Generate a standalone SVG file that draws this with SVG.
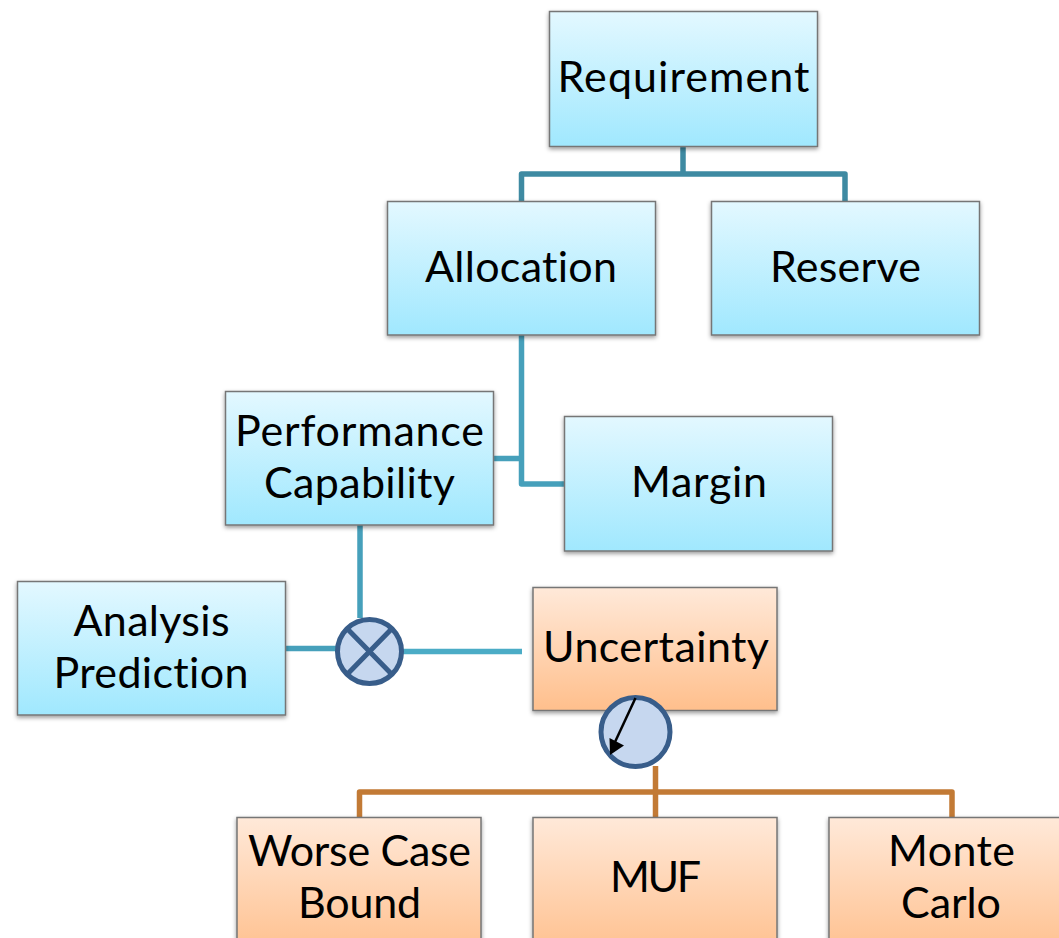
<svg xmlns="http://www.w3.org/2000/svg" width="1059" height="938" viewBox="0 0 1059 938">
<style>
.b{fill:url(#gb);stroke:#767676;stroke-width:1.5;filter:url(#sh)}
.o{fill:url(#go);stroke:#767676;stroke-width:1.5;filter:url(#sh)}
text{font-family:Lato,"Open Sans",sans-serif;font-size:43px;font-variant-ligatures:none;fill:#000;text-anchor:middle}
.c{fill:none;stroke-width:5.5;stroke-linejoin:round}
.c1{stroke:#3e8aa2}.c2{stroke:#46a0bb}.c3{stroke:#4bacc6}.c4{stroke:#c27a35}
.s{fill:#c6d7ef;stroke:#385d8a;stroke-width:5}
</style>
<defs>
<linearGradient id="gb" x1="0" y1="0" x2="0" y2="1"><stop offset="0" stop-color="#e3f8ff"/><stop offset="1" stop-color="#a0e8fe"/></linearGradient>
<linearGradient id="go" x1="0" y1="0" x2="0" y2="1"><stop offset="0" stop-color="#ffe9d9"/><stop offset="1" stop-color="#ffbf8c"/></linearGradient>
<filter id="sh" x="-5%" y="-5%" width="110%" height="115%"><feDropShadow dx="0" dy="2" stdDeviation="2" flood-color="#000" flood-opacity=".4"/></filter>
</defs>
<g id="connectors">
<path class="c c1" d="M683 146V174M521.500 202V174H845V202"/>
<path class="c c2" d="M521.500 335V484H565M494 458.500H521.500"/>
<path class="c c2" d="M360 525V618M286 648.500H337"/>
<path class="c c3" d="M402 651.500H522"/>
<path class="c c4" d="M655.500 766V818M359.500 818V792H952V818"/>
</g>
<g id="requirement"><rect class="b" x="549.500" y="11.500" width="268" height="135"/><text x="683.500" y="92" textLength="252">Requirement</text></g>
<g id="allocation"><rect class="b" x="387.500" y="201.500" width="268" height="133.500"/><text x="521" y="282" textLength="192">Allocation</text></g>
<g id="reserve"><rect class="b" x="711.500" y="201.500" width="268" height="133.500"/><text x="845.500" y="282" textLength="151">Reserve</text></g>
<g id="performance"><rect class="b" x="225.500" y="391.500" width="268" height="133.500"/><text x="359.500" y="446" textLength="249">Performance</text><text x="359.500" y="498" textLength="191">Capability</text></g>
<g id="margin"><rect class="b" x="564.500" y="416.500" width="268" height="134.500"/><text x="699" y="497" textLength="136">Margin</text></g>
<g id="analysis"><rect class="b" x="17.500" y="581.500" width="268" height="133.500"/><text x="151.500" y="636" textLength="156">Analysis</text><text x="151" y="688" textLength="195">Prediction</text></g>
<g id="uncertainty"><rect class="o" x="533" y="587.500" width="244" height="123"/><text x="656" y="662" textLength="226">Uncertainty</text></g>
<g id="worse"><rect class="o" x="237" y="817.500" width="244" height="140"/><text x="359.500" y="866" textLength="223">Worse Case</text><text x="359.500" y="918" textLength="123">Bound</text></g>
<g id="muf"><rect class="o" x="533" y="817.500" width="244" height="140"/><text x="655.500" y="892" textLength="91">MUF</text></g>
<g id="monte"><rect class="o" x="829" y="817.500" width="244" height="140"/><text x="951.500" y="866" textLength="127">Monte</text><text x="951" y="918" textLength="100">Carlo</text></g>
<g id="summing"><circle class="s" cx="369.500" cy="651.500" r="32"/><path d="M348 629.500L391 673.500M391 629.500L348 673.500" fill="none" stroke="#385d8a" stroke-width="5"/></g>
<g id="dial"><circle class="s" cx="635.500" cy="732" r="34.500"/><path d="M635.500 698L615 742" fill="none" stroke="#000" stroke-width="2.500"/><path d="M610 755L609.500 738L624 745.500z"/></g>
</svg>
